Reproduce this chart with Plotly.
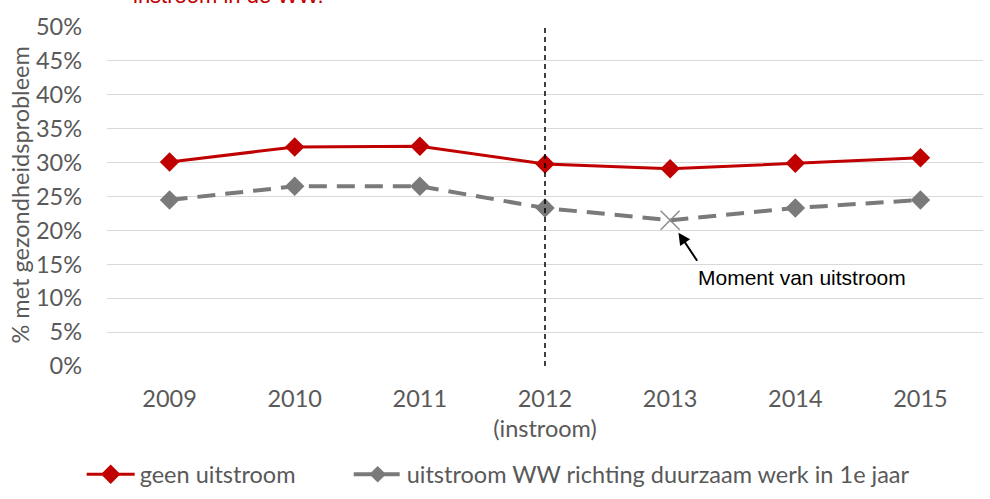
import plotly.graph_objects as go

years = ["2009", "2010", "2011", "2012", "2013", "2014", "2015"]
tick_labels = ["2009", "2010", "2011", "2012<br>(instroom)", "2013", "2014", "2015"]
geen_uitstroom = [30.1, 32.3, 32.4, 29.8, 29.1, 29.9, 30.7]
uitstroom_werk = [24.5, 26.5, 26.5, 23.3, 21.5, 23.3, 24.5]
y_ticks = [0, 5, 10, 15, 20, 25, 30, 35, 40, 45, 50]
y_tick_text = [f"{v}%" for v in y_ticks]
instroom_year = "2012"
uitstroom_year = "2013"

RED = "#C00000"
GRAY = "#7A7A7A"
FONT = "Lato"
FS = 23.5

idx_in = years.index(instroom_year)
idx_out = years.index(uitstroom_year)
gray_sizes = [0 if y == uitstroom_year else 15 for y in years]

fig = go.Figure()
fig.add_trace(go.Scatter(
    x=years, y=geen_uitstroom, mode="lines+markers", name="geen uitstroom",
    line=dict(color=RED, width=3),
    marker=dict(symbol="diamond", size=15, color=RED),
    legend="legend",
))
fig.add_trace(go.Scatter(
    x=years, y=uitstroom_werk, mode="lines+markers",
    name="uitstroom WW richting duurzaam werk in 1e jaar",
    line=dict(color=GRAY, width=4, dash="18px,10px"),
    marker=dict(symbol="diamond", size=gray_sizes, color=GRAY, opacity=1,
                line=dict(width=0)),
    legend="legend2",
))
fig.add_trace(go.Scatter(
    x=[uitstroom_year], y=[uitstroom_werk[idx_out]], mode="markers", showlegend=False,
    marker=dict(symbol="x-thin-open", size=19, color="#8c8c8c",
                line=dict(color="#8c8c8c", width=1.5)),
))

fig.add_shape(type="line", xref="x", yref="paper", x0=idx_in, x1=idx_in, y0=0, y1=1,
              line=dict(color="black", width=1.5, dash="5px,4px"))

# arrow
fig.add_annotation(x=idx_out, y=uitstroom_werk[idx_out], text="", showarrow=True,
                   ax=28, ay=42, arrowhead=2, arrowsize=1.2, arrowwidth=2,
                   arrowcolor="black", standoff=15)
fig.add_annotation(x=idx_out + 1.056, y=13.1, text="Moment van uitstroom", showarrow=False,
                   font=dict(family="Liberation Sans, Arial", size=21, color="black"))

# cut-off title
fig.add_annotation(xref="paper", yref="paper", x=0.0275, y=1.0516, xanchor="left",
                   yanchor="bottom", text="instroom in de WW.", showarrow=False,
                   font=dict(family="Liberation Sans, Arial", size=22, color=RED))

# y-axis title
fig.add_annotation(xref="paper", yref="paper", x=-0.0993, y=0.503, xanchor="center",
                   yanchor="middle", textangle=-90, text="% met gezondheidsprobleem",
                   showarrow=False, font=dict(family=FONT, size=FS, color="#595959"))

legend_common = dict(orientation="h", xanchor="left", y=-0.32, yanchor="middle",
                     font=dict(family=FONT, size=FS, color="#595959"),
                     itemwidth=48, bgcolor="rgba(0,0,0,0)")

fig.update_layout(
    width=990, height=499,
    margin=dict(l=107, r=7, t=27, b=133, autoexpand=False),
    plot_bgcolor="white", paper_bgcolor="white",
    font=dict(family=FONT, size=FS, color="#595959"),
    showlegend=True,
    legend=dict(x=-0.0289, **legend_common),
    legend2=dict(x=0.2759, **legend_common),
    xaxis=dict(tickmode="array", tickvals=years, ticktext=tick_labels, range=[-0.5, 6.5],
               showgrid=False, showline=False, zeroline=False, ticks="",
               ticklabelstandoff=16, tickfont=dict(size=FS, color="#595959")),
    yaxis=dict(range=[0, 50], tickmode="array", tickvals=y_ticks, ticktext=y_tick_text,
               showgrid=True, gridcolor="#d9d9d9", gridwidth=1, zeroline=False,
               showline=False, ticks="", ticklabelstandoff=24,
               tickfont=dict(size=FS, color="#595959")),
)

fig.write_html("out.html", config={"displayModeBar": False},
               post_script="document.body.style.margin='0';document.body.style.overflow='hidden';")
